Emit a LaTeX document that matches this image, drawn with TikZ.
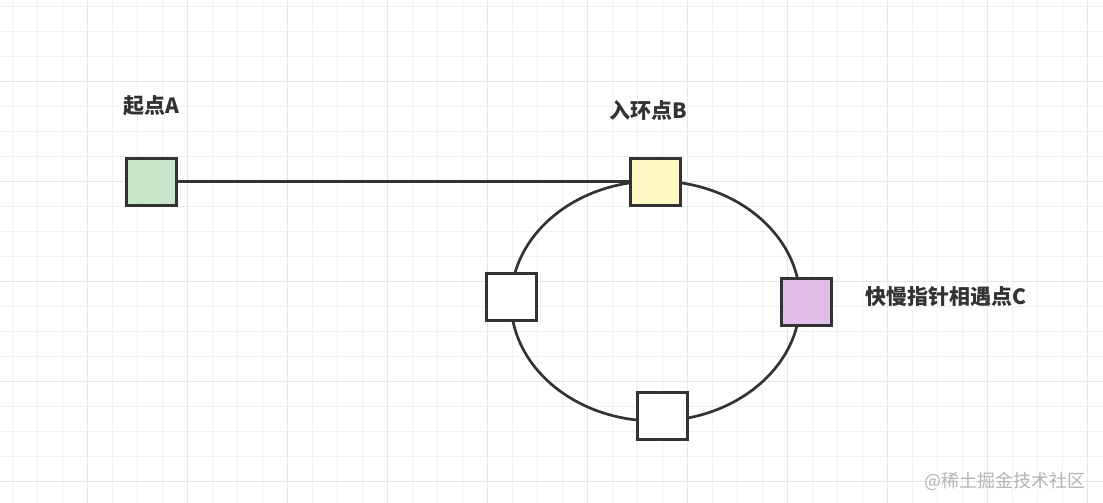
\documentclass[tikz,border=0pt]{standalone}
\usepackage{fontspec}
\newfontfamily\cjk{Noto Sans CJK SC}
\usetikzlibrary{shapes.geometric}
\definecolor{gridminor}{HTML}{F1F1F1}
\definecolor{gridmajor}{HTML}{E6E6E6}
\definecolor{edge}{HTML}{333333}
\definecolor{greenfill}{HTML}{C8E6C9}
\definecolor{yellowfill}{HTML}{FFF9C4}
\definecolor{purplefill}{HTML}{E1BEE7}
\definecolor{marktext}{HTML}{B4B4B4}
\tikzset{
  cell/.style={draw=edge, line width=3pt, minimum width=50pt, minimum height=47pt, inner sep=0pt, fill=white},
  lab/.style={font=\cjk\bfseries\fontsize{21}{25}\selectfont, text=edge, inner sep=0pt},
  link/.style={draw=edge, line width=2.7pt},
}
\begin{document}
\begin{tikzpicture}[x=1pt,y=-1pt]
\useasboundingbox (0,0) rectangle (1103,503);
\fill[white] (0,0) rectangle (1103,503);
% grid
\foreach \x in {12.5,37.5,...,1103} \draw[gridminor, line width=1pt] (\x,0) -- (\x,503);
\foreach \y in {6.5,31.5,...,503} \draw[gridminor, line width=1pt] (0,\y) -- (1103,\y);
\foreach \x in {87.5,187.5,...,1103} \draw[gridmajor, line width=1pt] (\x,0) -- (\x,503);
\foreach \y in {81.5,181.5,...,503} \draw[gridmajor, line width=1pt] (0,\y) -- (1103,\y);
% ring
\node[ellipse, draw=edge, line width=2.7pt, minimum width=289pt, minimum height=240pt, inner sep=0pt] (ring) at (655.5,301) {};
% boxes
\node[cell, fill=greenfill] (a) at (151,181.5) {};
\node[cell, fill=yellowfill] (b) at (655,181.5) {};
\node[cell] (d) at (511.5,296.5) {};
\node[cell, fill=purplefill] (c) at (806.5,301.5) {};
\node[cell] (e) at (662.5,415.5) {};
\draw[link] (a.east) -- (b.west);
% labels
\node[lab] (la) at (151,106) {起点A};
\node[lab] (lb) at (648,110) {入环点B};
\node[lab, anchor=west] (lc) at (865,297) {快慢指针相遇点C};
\node[font=\cjk\fontsize{18}{22}\selectfont, text=marktext, anchor=east, inner sep=0pt] (wm) at (1086,481) {@稀土掘金技术社区};
\end{tikzpicture}
\end{document}
